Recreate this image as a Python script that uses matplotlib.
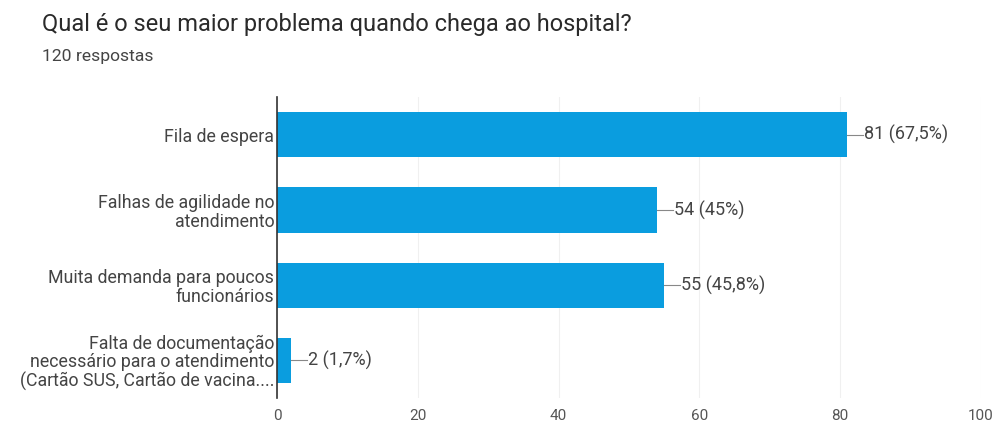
import matplotlib.pyplot as plt
import numpy as np

plt.rcParams['font.family'] = ['Roboto', 'DejaVu Sans']

# Respostas do formulário
opcoes = ['Fila de espera',
          'Falhas de agilidade no\natendimento',
          'Muita demanda para poucos\nfuncionários',
          'Falta de documentação\nnecessário para o atendimento\n(Cartão SUS, Cartão de vacina....']
respostas = [81, 54, 55, 2]
porcentagens = ['67,5%', '45%', '45,8%', '1,7%']
ticks_x = [0, 20, 40, 60, 80, 100]

fig = plt.figure(figsize=(10.02, 4.28), dpi=100)
ax = fig.add_axes([0.2764, 0.07, 0.7026, 0.703])

y = np.arange(len(opcoes))
ax.barh(y, respostas, height=0.6, color='#0a9ddf', zorder=3)

# Rótulos com linha de ligação
for yi, v, p in zip(y, respostas, porcentagens):
    ax.plot([v, v + 2.2], [yi, yi], color='#888888', lw=0.8, zorder=3)
    ax.text(v + 2.4, yi, f'{v} ({p})', va='center', ha='left',
            fontsize=13, color='#444444')

ax.set_ylim(len(opcoes) - 0.5, -0.5)
ax.set_xlim(0, 100)
ax.set_xticks(ticks_x)
ax.set_yticks(y)
ax.set_yticklabels(opcoes, fontsize=12.8, color='#444444', linespacing=1.05)
ax.tick_params(axis='x', length=0, labelsize=11, labelcolor='#555555', pad=8)
ax.tick_params(axis='y', length=0, pad=2)
ax.grid(axis='x', color='#f0f0f0', lw=0.8, zorder=0)
for s in ['top', 'right', 'bottom']:
    ax.spines[s].set_visible(False)
ax.spines['left'].set_color('#333333')
ax.spines['left'].set_linewidth(1.2)
ax.spines['left'].set_zorder(4)

fig.text(0.042, 0.9416, 'Qual é o seu maior problema quando chega ao hospital?',
         fontsize=17, color='#2a2a2a', va='center')
fig.text(0.042, 0.867, '120 respostas', fontsize=12.6, color='#444444', va='center')

fig.savefig('out.png', dpi=100)
